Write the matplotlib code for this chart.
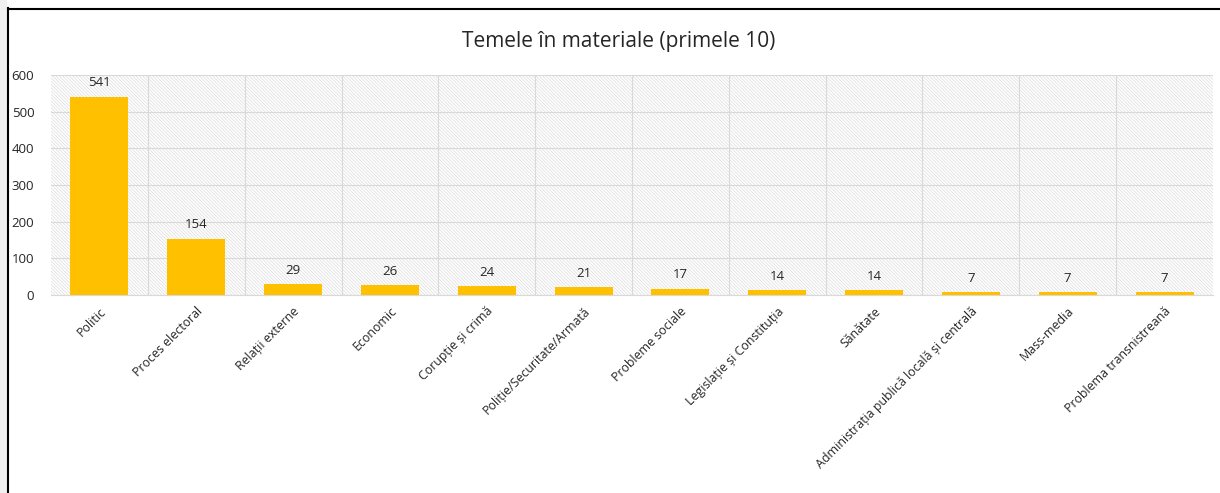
import matplotlib
matplotlib.use("Agg")
import matplotlib.pyplot as plt
from matplotlib.patches import Rectangle
from matplotlib.lines import Line2D

categories = ["Politic", "Proces electoral", "Relații externe", "Economic",
              "Corupție și crimă", "Poliție/Securitate/Armată", "Probleme sociale",
              "Legislație și Constituția", "Sănătate",
              "Administrația publică locală și centrală", "Mass-media",
              "Problema transnistreană"]
values = [541, 154, 29, 26, 24, 21, 17, 14, 14, 7, 7, 7]
yticks = [0, 100, 200, 300, 400, 500, 600]
title = "Temele în materiale (primele 10)"

plt.rcParams['font.family'] = ['Open Sans', 'DejaVu Sans']
plt.rcParams['hatch.color'] = '#dcdcdc'
plt.rcParams['hatch.linewidth'] = 0.5

fig = plt.figure(figsize=(12.2, 4.93), dpi=100)
ax = fig.add_axes([51/1220, 1-295/493, (1213-51)/1220, (295-75)/493])

# background hatch
bg = Rectangle((0, 0), 1, 1, transform=ax.transAxes, facecolor='white',
               edgecolor='#dcdcdc', hatch='\\' * 10, linewidth=0, zorder=0)
ax.add_patch(bg)

x = list(range(len(categories)))
bars = ax.bar(x, values, width=0.6, color='#ffc000', zorder=3)
for xi, v in zip(x, values):
    ax.text(xi, v + 20, str(v), ha='center', va='bottom', fontsize=9.5, color='#262626', zorder=4)

ax.set_xlim(-0.5, len(categories) - 0.5)
ax.set_ylim(0, 600)
ax.set_yticks(yticks)
ax.set_yticklabels([str(t) for t in yticks], fontsize=9.5, color='#262626')
ax.set_xticks(x)
ax.set_xticklabels(categories, rotation=45, ha='right', rotation_mode='anchor',
                   fontsize=8.9, color='#262626')
ax.set_xticks([i + 0.5 for i in x[:-1]], minor=True)
ax.tick_params(axis='both', which='both', length=0)
ax.tick_params(axis='y', pad=12)
ax.tick_params(axis='x', pad=7)
ax.grid(axis='y', which='major', color='#d9d9d9', linewidth=0.8, zorder=1)
ax.grid(axis='x', which='minor', color='#d9d9d9', linewidth=0.8, zorder=1)
ax.set_axisbelow(True)
for s in ['top', 'right', 'left']:
    ax.spines[s].set_visible(False)
ax.spines['bottom'].set_color('#d9d9d9')

fig.text(619/1220, 1-42/493, title, ha='center', va='center', fontsize=15, color='#262626')

# frame decorations
fig.patches.append(Rectangle((0, 0), 7/1220, 1, transform=fig.transFigure,
                             facecolor='#f0f0f0', edgecolor='none', zorder=0))
fig.lines.append(Line2D([7.5/1220, 7.5/1220], [0, 1-8/493], transform=fig.transFigure,
                        color='black', linewidth=1.5))
fig.lines.append(Line2D([7.5/1220, 1], [1-8.5/493, 1-8.5/493], transform=fig.transFigure,
                        color='black', linewidth=1.5))

fig.savefig("out.png", dpi=100)
